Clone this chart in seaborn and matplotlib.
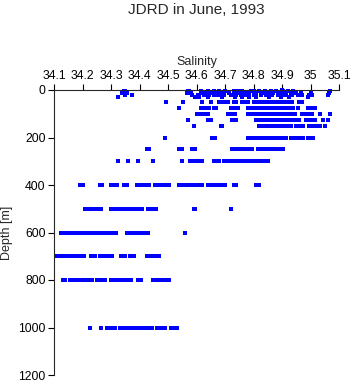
import matplotlib
matplotlib.use("Agg")
import matplotlib.pyplot as plt
import numpy as np
import pandas as pd
import seaborn as sns

# salinity readings per sampling depth [m]
sal_0 = [34.90]
sal_5 = [34.345, 34.35, 34.57, 34.575, 34.615, 34.64, 34.66, 34.68, 34.70, 34.73, 34.745,
         34.76, 34.79, 34.80, 34.82, 34.84, 34.86, 34.88, 34.90, 34.905, 34.92, 34.94, 35.07]
sal_12 = [34.34, 34.355, 34.565, 34.58, 34.62, 34.635, 34.65, 34.67, 34.69, 34.715, 34.735,
          34.75, 34.77, 34.785, 34.81, 34.83, 34.85, 34.87, 34.89, 34.91, 34.93, 34.95,
          34.965, 35.0, 35.065]
sal_20 = [34.35, 34.375, 34.585, 34.605, 34.625, 34.645, 34.66, 34.675, 34.695, 34.72, 34.74,
          34.755, 34.775, 34.80, 34.825, 34.845, 34.865, 34.885, 34.90, 34.915, 34.935,
          34.955, 34.97, 34.995, 35.005, 35.06]
sal_30 = [34.325, 34.595, 34.61, 34.64, 34.69, 34.735, 34.76, 34.785, 34.81, 34.855, 34.895,
          34.925, 34.99]
sal_50 = [34.493, 34.553, 34.62, 34.65, 34.68, 34.69, 34.70, 34.71, 34.73, 34.74, 34.76,
          34.77, 34.78, 34.80, 34.81, 34.82, 34.83, 34.84, 34.85, 34.86, 34.87, 34.88,
          34.89, 34.90, 34.91, 34.92, 34.935, 34.96, 34.97]
sal_75 = [34.54, 34.615, 34.625, 34.635, 34.645, 34.66, 34.67, 34.72, 34.73, 34.745, 34.78,
          34.79, 34.80, 34.81, 34.82, 34.83, 34.84, 34.85, 34.86, 34.87, 34.88, 34.89,
          34.90, 34.91, 34.92, 34.93, 34.94, 34.955, 34.99, 35.0, 35.015]
sal_100 = [34.60, 34.605, 34.61, 34.62, 34.63, 34.64, 34.71, 34.72, 34.735, 34.78, 34.79,
           34.80, 34.81, 34.82, 34.835, 34.845, 34.855, 34.865, 34.875, 34.885, 34.895,
           34.905, 34.915, 34.925, 34.935, 34.945, 34.97, 34.98, 34.99, 35.0, 35.005,
           35.035, 35.07]
sal_125 = [34.57, 34.64, 34.65, 34.725, 34.74, 34.81, 34.82, 34.83, 34.84, 34.85, 34.86,
           34.87, 34.88, 34.89, 34.90, 34.91, 34.92, 34.93, 34.945, 34.96, 34.985, 34.995,
           35.005, 35.015, 35.045, 35.06]
sal_150 = [34.59, 34.685, 34.69, 34.82, 34.83, 34.84, 34.85, 34.86, 34.87, 34.88, 34.89,
           34.90, 34.91, 34.92, 34.93, 34.95, 34.96, 34.975, 34.995, 35.005, 35.015,
           35.025, 35.035, 35.05]
sal_200 = [34.49, 34.655, 34.665, 34.78, 34.795, 34.805, 34.815, 34.825, 34.835, 34.845,
           34.855, 34.865, 34.875, 34.89, 34.90, 34.915, 34.93, 34.945, 34.955, 34.965,
           34.975, 34.99, 34.995, 35.01]
sal_250 = [34.425, 34.433, 34.54, 34.55, 34.585, 34.595, 34.725, 34.735, 34.745, 34.75,
           34.76, 34.765, 34.775, 34.785, 34.795, 34.815, 34.825, 34.835, 34.845, 34.855,
           34.865, 34.875, 34.885, 34.895, 34.905]
sal_300 = [34.325, 34.36, 34.395, 34.448, 34.548, 34.577, 34.59, 34.60, 34.61, 34.62,
           34.66, 34.67, 34.68, 34.695, 34.71, 34.72, 34.73, 34.74, 34.75, 34.76, 34.77,
           34.78, 34.79, 34.80, 34.81, 34.815, 34.83, 34.84, 34.85]
sal_400 = [34.19, 34.20, 34.26, 34.27, 34.30, 34.31, 34.32, 34.345, 34.355, 34.39, 34.40,
           34.415, 34.425, 34.435, 34.455, 34.465, 34.475, 34.485, 34.495, 34.505, 34.54,
           34.55, 34.56, 34.57, 34.58, 34.59, 34.60, 34.61, 34.62, 34.64, 34.655, 34.665,
           34.68, 34.69, 34.70, 34.73, 34.74, 34.81, 34.82]
sal_500 = [34.21, 34.22, 34.23, 34.24, 34.25, 34.265, 34.30, 34.31, 34.32, 34.325, 34.335,
           34.35, 34.355, 34.365, 34.375, 34.385, 34.395, 34.41, 34.43, 34.44, 34.45,
           34.458, 34.59, 34.595, 34.72]
sal_600 = [34.125, 34.135, 34.145, 34.155, 34.165, 34.175, 34.185, 34.195, 34.205, 34.215,
           34.225, 34.24, 34.255, 34.265, 34.275, 34.29, 34.30, 34.31, 34.318, 34.356,
           34.37, 34.38, 34.39, 34.40, 34.41, 34.42, 34.43, 34.56]
sal_700 = [34.11, 34.125, 34.14, 34.15, 34.16, 34.17, 34.18, 34.19, 34.205, 34.23, 34.245,
           34.26, 34.27, 34.28, 34.29, 34.305, 34.335, 34.35, 34.367, 34.38, 34.426, 34.44,
           34.445, 34.455, 34.47]
sal_800 = [34.13, 34.14, 34.155, 34.165, 34.175, 34.185, 34.195, 34.205, 34.215, 34.225,
           34.235, 34.25, 34.26, 34.27, 34.28, 34.30, 34.31, 34.32, 34.33, 34.34, 34.35,
           34.36, 34.37, 34.395, 34.405, 34.447, 34.455, 34.465, 34.48, 34.49, 34.503]
sal_1000 = [34.225, 34.265, 34.285, 34.295, 34.305, 34.315, 34.33, 34.34, 34.35, 34.36,
            34.37, 34.38, 34.39, 34.40, 34.41, 34.42, 34.43, 34.445, 34.46, 34.47, 34.48,
            34.49, 34.51, 34.52, 34.53]

depths = [0, 5, 12, 20, 30, 50, 75, 100, 125, 150, 200, 250, 300, 400, 500, 600, 700, 800, 1000]
salinity = [sal_0, sal_5, sal_12, sal_20, sal_30, sal_50, sal_75, sal_100, sal_125, sal_150,
            sal_200, sal_250, sal_300, sal_400, sal_500, sal_600, sal_700, sal_800, sal_1000]

sal_ticks = [34.1, 34.2, 34.3, 34.4, 34.5, 34.6, 34.7, 34.8, 34.9, 35.0, 35.1]
sal_labels = ['34.1', '34.2', '34.3', '34.4', '34.5', '34.6', '34.7', '34.8', '34.9', '35', '35.1']
depth_ticks = [0, 200, 400, 600, 800, 1000, 1200]

rows = []
for d, vals in zip(depths, salinity):
    for s in vals:
        rows.append((s, d))
df = pd.DataFrame(rows, columns=['Salinity', 'Depth'])

sns.set_style("ticks")
plt.rcParams['font.family'] = ['Liberation Sans', 'DejaVu Sans']

fig = plt.figure(figsize=(3.53, 3.84), dpi=100)
ax = fig.add_axes([54 / 353, 1 - 375 / 384, 285 / 353, 285 / 384])
sns.scatterplot(data=df, x='Salinity', y='Depth', ax=ax, color='#0000ff', marker='s',
                s=5.5, linewidth=0, clip_on=False)

ax.set_xlim(34.1, 35.1)
ax.set_ylim(1200, 0)
ax.xaxis.tick_top()
ax.xaxis.set_label_position('top')
ax.set_xticks(sal_ticks)
ax.set_xticklabels(sal_labels)
ax.set_yticks(depth_ticks)
ax.tick_params(labelsize=8.8, length=4, width=0.8, colors='black', pad=2)
ax.set_xlabel('Salinity', fontsize=9, labelpad=3)
ax.set_ylabel('Depth [m]', fontsize=9, labelpad=4)
for side in ['right', 'bottom']:
    ax.spines[side].set_visible(False)
ax.spines['left'].set_linewidth(0.8)
ax.spines['top'].set_linewidth(0.8)

fig.text(196.5 / 353, 1 - 10 / 384, 'JDRD in June, 1993', ha='center', va='center', fontsize=11)
fig.savefig('out.png', dpi=100)
